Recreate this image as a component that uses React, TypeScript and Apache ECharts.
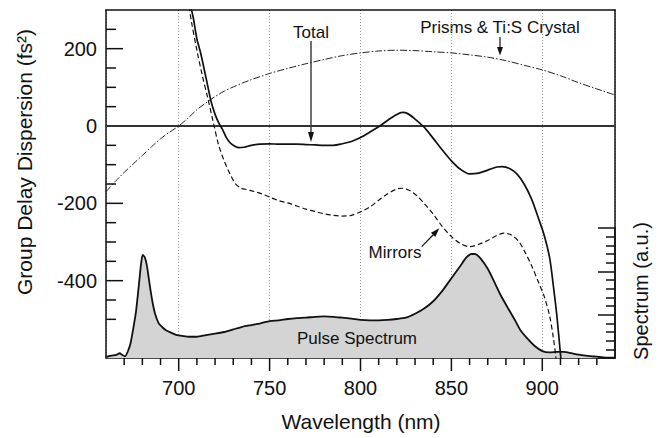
import React, { useEffect, useRef } from "react";
import * as echarts from "echarts";

// ---- Data ----
const totalNm = [706, 708, 710, 712, 715, 718, 720, 722, 724, 726, 728, 730, 733, 736, 740, 745, 750, 755, 760, 765, 770, 775, 780, 785, 790, 795, 800, 805, 810, 815, 820, 823, 826, 830, 835, 840, 845, 850, 855, 860, 865, 870, 875, 878, 882, 886, 890, 894, 898, 901, 904, 906, 908, 910, 911];
const totalGdd = [320, 280, 225, 190, 125, 60, 30, 8, -8, -28, -42, -50, -56, -55, -50, -47, -46, -47, -47, -47, -48, -49, -50, -50, -46, -40, -30, -16, -2, 15, 30, 35, 32, 18, -3, -32, -62, -90, -112, -124, -122, -114, -106, -105, -110, -124, -150, -188, -240, -282, -340, -410, -490, -590, -640];

const mirrorsNm = [705, 707, 710, 713, 716, 719, 722, 725, 728, 731, 734, 738, 742, 746, 750, 755, 760, 765, 770, 775, 780, 785, 790, 795, 800, 805, 810, 815, 820, 823, 827, 831, 835, 840, 845, 850, 855, 860, 865, 870, 875, 879, 883, 887, 890, 894, 898, 901, 904, 906, 907.5, 908];
const mirrorsGdd = [330, 270, 196, 130, 72, 10, -50, -90, -122, -148, -160, -165, -170, -176, -184, -193, -199, -207, -215, -221, -227, -231, -233, -231, -222, -210, -192, -175, -163, -161, -167, -180, -200, -228, -260, -286, -304, -312, -306, -296, -283, -277, -282, -298, -322, -360, -405, -440, -490, -545, -600, -640];

const prismsNm = [660, 665, 670, 675, 680, 685, 690, 695, 700, 705, 710, 715, 720, 725, 730, 735, 740, 745, 750, 760, 770, 780, 790, 800, 810, 820, 830, 840, 850, 860, 870, 880, 890, 900, 910, 920, 930, 940];
const prismsGdd = [-170, -144, -120, -98, -76, -54, -33, -16, 0, 20, 42, 60, 76, 90, 101, 111, 120, 128, 136, 149, 161, 172, 182, 189, 194, 196, 195, 192, 189, 184, 178, 169, 157, 145, 130, 112, 96, 80];

const spectrumNm = [660, 662, 664, 666, 667.5, 669, 670.5, 672, 673.5, 675, 676.5, 678, 679.3, 680.2, 681.3, 682.5, 684, 685.5, 687, 689, 691, 693, 696, 699, 702, 706, 710, 715, 720, 725, 730, 735, 740, 745, 750, 755, 760, 765, 770, 775, 780, 785, 790, 795, 800, 805, 810, 815, 820, 825, 830, 835, 840, 845, 850, 855, 858, 861, 863, 866, 870, 873, 877, 881, 885, 888, 892, 896, 900, 904, 908, 912, 916, 920, 925, 930, 935, 940];
const spectrumAu = [0.02, 0.05, 0.06, 0.08, 0.11, 0.07, 0.04, 0.15, 0.34, 0.68, 1.07, 1.65, 2.18, 2.38, 2.33, 2.13, 1.7, 1.31, 1.02, 0.8, 0.71, 0.64, 0.58, 0.53, 0.51, 0.49, 0.49, 0.53, 0.56, 0.6, 0.66, 0.72, 0.76, 0.8, 0.85, 0.87, 0.9, 0.92, 0.93, 0.95, 0.96, 0.95, 0.93, 0.91, 0.88, 0.87, 0.87, 0.88, 0.9, 0.93, 1.02, 1.14, 1.31, 1.55, 1.84, 2.13, 2.31, 2.4, 2.4, 2.3, 2.06, 1.81, 1.46, 1.16, 0.87, 0.64, 0.44, 0.27, 0.16, 0.13, 0.14, 0.14, 0.11, 0.08, 0.05, 0.03, 0.01, 0.01];

const zeroNm = [660, 940];
const zeroGdd = [0, 0];

// tick positions (axis units)
const xTickValues = [670, 680, 690, 700, 710, 720, 730, 740, 750, 760, 770, 780, 790, 800, 810, 820, 830, 840, 850, 860, 870, 880, 890, 900, 910, 920, 930];
const xMajorTicks = [700, 750, 800, 850, 900];
const yTickValues = [-500, -450, -400, -350, -300, -250, -200, -150, -100, -50, 50, 100, 150, 200, 250];
const yMajorTicks = [-400, -200, 0, 200];

const xLabelTicks = [700, 750, 800, 850, 900];
const yLabelTicks = [-400, -200, 0, 200];

const X_MIN = 660;
const Y_MIN = -600;

const zip = (xs: number[], ys: number[]) => xs.map((x, i) => [x, ys[i]]);

const FONT = "'Liberation Sans', Arial, Helvetica, sans-serif";
const INK = "#111";

export default function App() {
  const ref = useRef<HTMLDivElement>(null);

  useEffect(() => {
    document.body.style.margin = "0";
    if (!ref.current) return;
    const chart = echarts.init(ref.current, undefined, { renderer: "svg" });

    const arrowHead = (pts: number[][]) => ({
      type: "polygon",
      shape: { points: pts },
      style: { fill: INK },
      silent: true,
    });

    const plainLine = { show: true, onZero: false, lineStyle: { color: INK, width: 1.5 } };
    const tickStyle = { color: INK, width: 1.5 };

    const baseGraphic: any[] = [
      {
        type: "text",
        x: 24,
        y: 162,
        rotation: Math.PI / 2,
        style: { text: "Group Delay Dispersion (fs²)", fontSize: 21, fontFamily: FONT, fill: INK, align: "center", verticalAlign: "middle" },
      },
      {
        type: "text",
        x: 641,
        y: 291,
        rotation: Math.PI / 2,
        style: { text: "Spectrum (a.u.)", fontSize: 20, fontFamily: FONT, fill: INK, align: "center", verticalAlign: "middle" },
      },
      {
        type: "text",
        x: 361,
        y: 421,
        style: { text: "Wavelength (nm)", fontSize: 21, fontFamily: FONT, fill: INK, align: "center", verticalAlign: "middle" },
      },
      {
        type: "text",
        x: 311,
        y: 32,
        style: { text: "Total", fontSize: 17, fontFamily: FONT, fill: INK, align: "center", verticalAlign: "middle" },
      },
      {
        type: "text",
        x: 500,
        y: 27,
        style: { text: "Prisms & Ti:S Crystal", fontSize: 17, fontFamily: FONT, fill: INK, align: "center", verticalAlign: "middle" },
      },
      {
        type: "text",
        x: 395,
        y: 252,
        style: { text: "Mirrors", fontSize: 17, fontFamily: FONT, fill: INK, align: "center", verticalAlign: "middle" },
      },
      {
        type: "text",
        x: 357,
        y: 338,
        style: { text: "Pulse Spectrum", fontSize: 17, fontFamily: FONT, fill: INK, align: "center", verticalAlign: "middle" },
        z: 10,
      },
      { type: "line", shape: { x1: 311, y1: 41, x2: 311, y2: 133 }, style: { stroke: INK, lineWidth: 1.2 } },
      arrowHead([[308, 132], [314, 132], [311, 142]]),
      { type: "line", shape: { x1: 500, y1: 37, x2: 500, y2: 48 }, style: { stroke: INK, lineWidth: 1.2 } },
      arrowHead([[497, 47], [503, 47], [500, 55.5]]),
      { type: "line", shape: { x1: 421.7, y1: 246.7, x2: 434, y2: 234 }, style: { stroke: INK, lineWidth: 1.2 } },
      arrowHead([[435.3, 236.9], [430.9, 232.7], [439.3, 228.3]]),
    ];

    const option: any = {
      animation: false,
      backgroundColor: "#fff",
      grid: [
        { left: 106, right: 45, top: 10, bottom: 80, show: false },
        { left: 106, right: 45, top: 228, bottom: 80, show: false },
      ],
      xAxis: [
        {
          type: "value",
          gridIndex: 0,
          position: "bottom",
          min: 660,
          max: 940,
          splitNumber: 5,
          axisLine: plainLine,
          axisTick: { show: false },
          axisLabel: {
            show: true,
            margin: 20,
            fontSize: 20,
            fontFamily: FONT,
            color: INK,
            formatter: (v: number) => (xLabelTicks.includes(v) ? String(v) : ""),
          },
          splitLine: { show: true, lineStyle: { color: "#999", width: 1, type: [1, 2] } },
        },
        {
          type: "value",
          gridIndex: 0,
          position: "top",
          min: 660,
          max: 940,
          axisLine: plainLine,
          axisTick: { show: false },
          axisLabel: { show: false },
          splitLine: { show: false },
        },
        { type: "value", gridIndex: 1, min: 660, max: 940, show: false },
      ],
      yAxis: [
        {
          type: "value",
          gridIndex: 0,
          position: "left",
          min: -600,
          max: 300,
          interval: 200,
          axisLine: plainLine,
          axisTick: { show: false },
          axisLabel: {
            show: true,
            margin: 9,
            fontSize: 20,
            fontFamily: FONT,
            color: INK,
            formatter: (v: number) => (yLabelTicks.includes(v) ? String(v) : ""),
          },
          splitLine: { show: false },
        },
        {
          type: "value",
          gridIndex: 0,
          position: "right",
          min: -600,
          max: 300,
          axisLine: plainLine,
          axisTick: { show: false },
          axisLabel: { show: false },
          splitLine: { show: false },
        },
        {
          type: "value",
          gridIndex: 1,
          position: "right",
          min: 0,
          max: 3,
          interval: 1,
          z: 10,
          axisLine: plainLine,
          axisTick: { show: true, inside: true, length: 17, lineStyle: tickStyle },
          minorTick: { show: true, splitNumber: 5, length: 9, lineStyle: tickStyle },
          axisLabel: { show: false },
          splitLine: { show: false },
        },
      ],
      series: [
        {
          name: "Pulse Spectrum",
          type: "line",
          xAxisIndex: 2,
          yAxisIndex: 2,
          data: zip(spectrumNm, spectrumAu),
          showSymbol: false,
          smooth: 0.2,
          lineStyle: { color: INK, width: 1.8 },
          areaStyle: { color: "#d4d4d4", opacity: 1 },
          z: 1,
        },
        {
          name: "Zero",
          type: "line",
          xAxisIndex: 0,
          yAxisIndex: 0,
          data: zip(zeroNm, zeroGdd),
          showSymbol: false,
          lineStyle: { color: "#333", width: 1.8 },
          z: 2,
        },
        {
          name: "Prisms & Ti:S Crystal",
          type: "line",
          xAxisIndex: 0,
          yAxisIndex: 0,
          data: zip(prismsNm, prismsGdd),
          showSymbol: false,
          smooth: 0.3,
          lineStyle: { color: "#222", width: 1, type: [7, 2, 1.5, 2] },
          z: 3,
        },
        {
          name: "Mirrors",
          type: "line",
          xAxisIndex: 0,
          yAxisIndex: 0,
          data: zip(mirrorsNm, mirrorsGdd),
          showSymbol: false,
          smooth: 0.3,
          clip: true,
          lineStyle: { color: INK, width: 1.2, type: [5, 3] },
          z: 3,
        },
        {
          name: "Total",
          type: "line",
          xAxisIndex: 0,
          yAxisIndex: 0,
          data: zip(totalNm, totalGdd),
          showSymbol: false,
          smooth: 0.3,
          clip: true,
          lineStyle: { color: INK, width: 1.7 },
          z: 4,
        },
      ],
      graphic: baseGraphic,
    };

    chart.setOption(option);

    // Axis ticks placed through the axis scales (left: inside, bottom: outside)
    const finder = { xAxisIndex: 0, yAxisIndex: 0 };
    const tickEls: any[] = [];
    yTickValues.forEach((v) => {
      const p = chart.convertToPixel(finder, [X_MIN, v]) as number[];
      if (!p) return;
      const len = yMajorTicks.includes(v) ? 17 : 10;
      tickEls.push({
        type: "line",
        z: 20,
        shape: { x1: p[0], y1: p[1], x2: p[0] + len, y2: p[1] },
        style: { stroke: INK, lineWidth: 1.5 },
      });
    });
    xTickValues.forEach((v) => {
      const p = chart.convertToPixel(finder, [v, Y_MIN]) as number[];
      if (!p) return;
      const len = xMajorTicks.includes(v) ? 13 : 7;
      tickEls.push({
        type: "line",
        z: 20,
        shape: { x1: p[0], y1: p[1], x2: p[0], y2: p[1] + len },
        style: { stroke: INK, lineWidth: 1.5 },
      });
    });
    chart.setOption({ graphic: [...baseGraphic, ...tickEls] });

    return () => chart.dispose();
  }, []);

  return <div ref={ref} style={{ width: 660, height: 438 }} />;
}
